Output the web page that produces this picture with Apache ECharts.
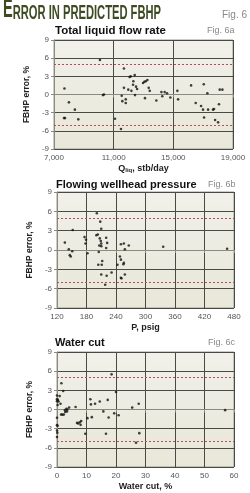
<!DOCTYPE html>
<html><head><meta charset="utf-8">
<script src="https://cdn.jsdelivr.net/npm/echarts@6/dist/echarts.min.js"></script>
<style>html,body{margin:0;padding:0;background:#fff}#c{width:250px;height:493px}</style>
</head><body><div id="c"></div>
<script>
// Fig 6a: Total liquid flow rate (stb/day) vs FBHP error (%)
const qRate = [7700,7670,7740,8000,8400,8630,10080,10280,10350,11090,11490,11540,11580,11690,11690,11810,11810,11980,12070,12140,12190,12300,12320,12410,12430,12500,12570,12970,13060,13150,13260,13100,13350,13420,13860,14200,14260,14420,14580,14800,15270,15320,16190,16500,16860,16990,17040,17060,17280,17330,17660,17730,17800,18000,18060,18110,18290];
const qErr  = [1.0,-3.9,-3.9,-1.3,-2.5,-4.1,5.7,-0.1,0.0,-4.0,-5.7,-0.2,-1.1,4.3,1.1,-0.8,-1.4,0.8,2.9,3.0,0.6,1.6,2.2,3.2,-0.1,1.3,0.9,1.9,2.1,2.2,2.4,-0.6,1.1,0.6,-1.0,0.4,-0.3,0.4,0.2,-0.5,0.6,-0.8,1.5,-1.4,-1.9,-2.5,1.7,-3.8,0.2,-2.5,-2.5,-2.4,-4.2,-4.6,-1.6,0.8,0.8];
// Fig 6b: Flowing wellhead pressure (psig) vs FBHP error (%)
const pWh  = [136,144,146,148,151,152,176,178,179,182,201,200,203,205,204,206,207,208,209,210,210,210,211,212,210,218,220,221,220,222,231,243,248,250,250,251,250,255,256,256,258,258,266,336,466];
const pErr = [1.15,0.1,-0.8,-1.0,-0.2,3.1,2.0,1.0,1.6,-0.5,5.7,2.3,2.4,-0.3,-2.3,0.7,1.8,4.4,1.4,3.3,-3.8,0.6,-2.3,-1.7,1.0,-5.4,0.3,-4.0,1.9,1.1,-3.5,-2.3,-1.0,-1.5,-4.3,-4.4,0.9,-2.2,-2.0,1.0,0.1,-3.8,0.7,0.5,0.2];
// Fig 6c: Water cut (%) vs FBHP error (%)
const wCut = [0,0,0,0.3,0.2,0.5,0,0,0.2,0,0.1,0,0.9,1.2,1.5,1.4,1.8,2.1,2.3,2.7,2.8,3.2,3.4,3.5,4.1,6.3,6.8,7.2,7.7,8.0,8.2,9.6,10.3,11.3,11.5,11.8,12.9,14.5,15.7,16.6,17.2,17.5,18.5,19.4,20.0,20.9,25.5,26.8,27.7,27.9,57.0];
const wErr = [2.2,1.3,1.6,1.5,0.7,1.25,-1.3,-2.45,-2.55,-3.3,-3.65,-4.3,2.1,0.9,4.1,-0.8,-0.8,2.9,-0.8,-0.1,-0.4,0.1,-0.3,0.0,0.3,0.4,-2.1,-2.2,-2.0,-2.4,-1.8,-3.8,-1.35,1.6,0.8,-1.2,0.9,1.25,-0.3,-3.8,1.5,-1.25,5.5,-0.6,2.75,-0.9,0.3,-5.2,0.9,-3.7,-0.1];
const errTicks = [-9,-6,-3,0,3,6,9];
const limits = [5,-5];

const pair = (a,b)=>a.map((v,i)=>[v,b[i]]);
const bg = {type:'linear',x:0,y:0,x2:0,y2:1,colorStops:[{offset:0,color:'#f1f0ea'},{offset:1,color:'#e8e7d8'}]};
const grids = [
  {left:54, right:17, top:40, height:109},
  {left:57, right:16, top:192, height:116},
  {left:57, right:16, top:352, height:115}
].map(g=>Object.assign(g,{show:true,backgroundColor:bg,borderColor:'#9a9a90',borderWidth:1,containLabel:false}));

const lab = {color:'#555',fontSize:8,fontFamily:'Liberation Sans, Arial',margin:5};
function xAx(i,min,max,interval,name,fmt){
  return {gridIndex:i,type:'value',min,max,interval,name,nameLocation:'middle',nameGap:15,
    nameTextStyle:{color:'#222',fontSize:9,fontWeight:'bold',fontFamily:'Liberation Sans, Arial',rich:{a:{fontSize:9,fontWeight:'bold',color:'#222'},s:{fontSize:6,fontWeight:'bold',color:'#222',verticalAlign:'bottom'}}},
    axisLine:{show:true,lineStyle:{color:'#8a8a80'}},axisTick:{show:true,length:3,lineStyle:{color:'#8a8a80'}},
    axisLabel:Object.assign({},lab,{formatter:fmt||(v=>v)}),
    splitLine:{show:true,lineStyle:{color:'#4a4a44',width:1}}};
}
function yAx(i){
  return {gridIndex:i,type:'value',min:-9,max:9,interval:3,name:'FBHP error, %',nameLocation:'middle',nameGap:21,
    nameTextStyle:{color:'#222',fontSize:8.5,fontWeight:'bold',fontFamily:'Liberation Sans, Arial'},
    axisLine:{show:true,lineStyle:{color:'#8a8a80'}},axisTick:{show:true,length:3,lineStyle:{color:'#8a8a80'}},
    axisLabel:Object.assign({},lab,{formatter:v=>errTicks.includes(v)?String(v):''}),
    splitLine:{show:true,lineStyle:{color:'#4a4a44',width:1}}};
}
function sc(i,data){
  return {type:'scatter',xAxisIndex:i,yAxisIndex:i,data,symbolSize:2.6,itemStyle:{color:'#111'},silent:true,
    markLine:{silent:true,symbol:['none','none'],label:{show:false},
      lineStyle:{color:'#b0505a',type:[2,2],width:1},data:limits.map(v=>({yAxis:v}))}};
}
// measure header text to condense it horizontally
const mc = document.createElement('canvas').getContext('2d');
const fBig = 'bold 26px "Liberation Sans", Arial', fSmall = 'bold 20px "Liberation Sans", Arial';
mc.font = fBig; const wE = mc.measureText('E').width;
mc.font = fSmall; const wR = mc.measureText('RROR IN PREDICTED FBHP').width;
const sx = 158 / (wE + wR);

const T = (text,left,top,style)=>({type:'text',left,top,style:Object.assign({text,fill:'#111',font:'bold 11px "Liberation Sans", Arial'},style||{})});
const chart = echarts.init(document.getElementById('c'),null,{renderer:'canvas'});
chart.setOption({
  animation:false,
  backgroundColor:'#fff',
  grid:grids,
  xAxis:[xAx(0,7000,19000,4000,'{a|Q}{s|liq}{a|, stb/day}',v=>v.toLocaleString('en-US')),
         xAx(1,120,480,60,'P, psig'),
         xAx(2,0,60,10,'Water cut, %')],
  yAxis:[yAx(0),yAx(1),yAx(2)],
  series:[sc(0,pair(qRate,qErr)),sc(1,pair(pWh,pErr)),sc(2,pair(wCut,wErr))],
  graphic:[
    {type:'group',x:3,y:0,scaleX:sx,children:[
      {type:'text',x:0,y:23,style:{text:'E',font:fBig,fill:'#3d4a22',textVerticalAlign:'bottom'}},
      {type:'text',x:wE,y:23,style:{text:'RROR IN PREDICTED FBHP',font:fSmall,fill:'#3d4a22',textVerticalAlign:'bottom'}}
    ]},
    {type:'text',right:3,top:10,style:{text:'Fig. 6',fill:'#888',font:'10px "Liberation Sans", Arial'}},
    T('Total liquid flow rate',55,25,{font:'bold 11.5px "Liberation Sans", Arial'}),
    T('Fig. 6a',207,26,{fill:'#888',font:'9px "Liberation Sans", Arial'}),
    T('Flowing wellhead pressure',56,179,{font:'bold 11px "Liberation Sans", Arial'}),
    T('Fig. 6b',208,180,{fill:'#888',font:'9px "Liberation Sans", Arial'}),
    T('Water cut',55,337,{font:'bold 11px "Liberation Sans", Arial'}),
    T('Fig. 6c',208,338,{fill:'#888',font:'9px "Liberation Sans", Arial'})
  ]
});
</script></body></html>
